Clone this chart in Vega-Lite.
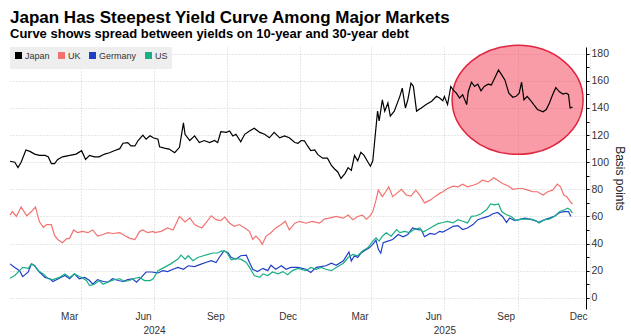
{
  "$schema": "https://vega.github.io/schema/vega-lite/v6.json",
  "width": 580,
  "height": 262,
  "padding": {"left": 7, "top": 9, "right": 0, "bottom": 0},
  "background": "white",
  "title": {
    "text": "Japan Has Steepest Yield Curve Among Major Markets",
    "subtitle": "Curve shows spread between yields on 10-year and 30-year debt",
    "anchor": "start",
    "frame": "group",
    "font": "Liberation Sans",
    "fontSize": 17,
    "fontWeight": "bold",
    "color": "#000000",
    "subtitleFont": "Liberation Sans",
    "subtitleFontSize": 13,
    "subtitleFontWeight": "bold",
    "subtitleColor": "#000000",
    "subtitlePadding": 1,
    "offset": 0
  },
  "config": {
    "view": {"stroke": null},
    "axis": {
      "labelFont": "Liberation Sans",
      "labelColor": "#333333",
      "titleFont": "Liberation Sans",
      "gridColor": "#cfcfcf",
      "gridDash": [1, 2],
      "gridWidth": 1
    }
  },
  "datasets": {
    "focus": [{"d": "2025-09-01", "v": 146}],
    "spread": [
      {"d":"2023-12-03","s":"Japan","v":100.7},{"d":"2023-12-09","s":"Japan","v":100},{"d":"2023-12-13","s":"Japan","v":96},{"d":"2023-12-17","s":"Japan","v":100},{"d":"2023-12-23","s":"Japan","v":109},{"d":"2023-12-28","s":"Japan","v":108},
      {"d":"2024-01-03","s":"Japan","v":106},{"d":"2024-01-09","s":"Japan","v":105},{"d":"2024-01-16","s":"Japan","v":105},{"d":"2024-01-20","s":"Japan","v":104},{"d":"2024-01-24","s":"Japan","v":99},{"d":"2024-01-28","s":"Japan","v":99},
      {"d":"2024-02-01","s":"Japan","v":102},{"d":"2024-02-07","s":"Japan","v":104},{"d":"2024-02-16","s":"Japan","v":105},{"d":"2024-02-24","s":"Japan","v":106},{"d":"2024-03-02","s":"Japan","v":108.5},{"d":"2024-03-07","s":"Japan","v":102},
      {"d":"2024-03-12","s":"Japan","v":105},{"d":"2024-03-18","s":"Japan","v":104},{"d":"2024-03-24","s":"Japan","v":104},{"d":"2024-03-31","s":"Japan","v":106},{"d":"2024-04-06","s":"Japan","v":107},{"d":"2024-04-12","s":"Japan","v":108.5},
      {"d":"2024-04-19","s":"Japan","v":110},{"d":"2024-04-23","s":"Japan","v":114},{"d":"2024-04-29","s":"Japan","v":114.5},{"d":"2024-05-03","s":"Japan","v":112},{"d":"2024-05-08","s":"Japan","v":112},{"d":"2024-05-12","s":"Japan","v":116},
      {"d":"2024-05-18","s":"Japan","v":120},{"d":"2024-05-22","s":"Japan","v":117},{"d":"2024-05-27","s":"Japan","v":119.5},{"d":"2024-05-31","s":"Japan","v":118},{"d":"2024-06-06","s":"Japan","v":117},{"d":"2024-06-08","s":"Japan","v":111.4},
      {"d":"2024-06-14","s":"Japan","v":110.4},{"d":"2024-06-20","s":"Japan","v":109.7},{"d":"2024-06-27","s":"Japan","v":107},{"d":"2024-07-03","s":"Japan","v":111},{"d":"2024-07-08","s":"Japan","v":129},{"d":"2024-07-10","s":"Japan","v":120.6},
      {"d":"2024-07-16","s":"Japan","v":116},{"d":"2024-07-22","s":"Japan","v":119.4},{"d":"2024-07-28","s":"Japan","v":114.5},{"d":"2024-08-03","s":"Japan","v":116},{"d":"2024-08-10","s":"Japan","v":114.5},{"d":"2024-08-16","s":"Japan","v":116},
      {"d":"2024-08-20","s":"Japan","v":114.5},{"d":"2024-08-24","s":"Japan","v":122.5},{"d":"2024-08-31","s":"Japan","v":122},{"d":"2024-09-04","s":"Japan","v":123},{"d":"2024-09-08","s":"Japan","v":119.4},{"d":"2024-09-12","s":"Japan","v":120.6},
      {"d":"2024-09-18","s":"Japan","v":115},{"d":"2024-09-23","s":"Japan","v":120.6},{"d":"2024-09-29","s":"Japan","v":123},{"d":"2024-10-05","s":"Japan","v":125},{"d":"2024-10-12","s":"Japan","v":122},{"d":"2024-10-18","s":"Japan","v":120.6},
      {"d":"2024-10-24","s":"Japan","v":118},{"d":"2024-10-30","s":"Japan","v":122},{"d":"2024-11-06","s":"Japan","v":118},{"d":"2024-11-12","s":"Japan","v":119.4},{"d":"2024-11-18","s":"Japan","v":118},{"d":"2024-11-25","s":"Japan","v":114.5},
      {"d":"2024-11-29","s":"Japan","v":114},{"d":"2024-12-03","s":"Japan","v":116},{"d":"2024-12-07","s":"Japan","v":115.8},{"d":"2024-12-11","s":"Japan","v":112},{"d":"2024-12-15","s":"Japan","v":108.5},{"d":"2024-12-20","s":"Japan","v":109},
      {"d":"2024-12-24","s":"Japan","v":105.6},{"d":"2024-12-30","s":"Japan","v":103},{"d":"2025-01-05","s":"Japan","v":103},{"d":"2025-01-10","s":"Japan","v":97.6},{"d":"2025-01-14","s":"Japan","v":95},{"d":"2025-01-18","s":"Japan","v":92.8},
      {"d":"2025-01-22","s":"Japan","v":88},{"d":"2025-01-27","s":"Japan","v":91.6},{"d":"2025-01-31","s":"Japan","v":96},{"d":"2025-02-04","s":"Japan","v":94},{"d":"2025-02-08","s":"Japan","v":105},{"d":"2025-02-12","s":"Japan","v":101},
      {"d":"2025-02-16","s":"Japan","v":107.3},{"d":"2025-02-20","s":"Japan","v":105},{"d":"2025-02-25","s":"Japan","v":100},{"d":"2025-02-28","s":"Japan","v":97},{"d":"2025-03-03","s":"Japan","v":101},{"d":"2025-03-06","s":"Japan","v":119.5},
      {"d":"2025-03-09","s":"Japan","v":137.7},{"d":"2025-03-11","s":"Japan","v":130.4},{"d":"2025-03-15","s":"Japan","v":146},{"d":"2025-03-18","s":"Japan","v":137.7},{"d":"2025-03-22","s":"Japan","v":143.7},{"d":"2025-03-25","s":"Japan","v":134},
      {"d":"2025-03-30","s":"Japan","v":137.7},{"d":"2025-04-06","s":"Japan","v":148.6},{"d":"2025-04-09","s":"Japan","v":154.7},{"d":"2025-04-13","s":"Japan","v":140},{"d":"2025-04-16","s":"Japan","v":146},{"d":"2025-04-20","s":"Japan","v":158.3},
      {"d":"2025-04-23","s":"Japan","v":156},{"d":"2025-04-27","s":"Japan","v":137.7},{"d":"2025-05-03","s":"Japan","v":140},{"d":"2025-05-09","s":"Japan","v":142.5},{"d":"2025-05-16","s":"Japan","v":145},{"d":"2025-05-22","s":"Japan","v":148.6},
      {"d":"2025-05-26","s":"Japan","v":147.4},{"d":"2025-05-30","s":"Japan","v":145.4},{"d":"2025-06-01","s":"Japan","v":148.6},{"d":"2025-06-05","s":"Japan","v":142.5},{"d":"2025-06-09","s":"Japan","v":155.9},{"d":"2025-06-12","s":"Japan","v":153.4},
      {"d":"2025-06-16","s":"Japan","v":151},{"d":"2025-06-20","s":"Japan","v":147.4},{"d":"2025-06-24","s":"Japan","v":149.8},{"d":"2025-06-29","s":"Japan","v":142.5},{"d":"2025-07-01","s":"Japan","v":152.2},{"d":"2025-07-05","s":"Japan","v":159},
      {"d":"2025-07-09","s":"Japan","v":155.9},{"d":"2025-07-13","s":"Japan","v":157.6},{"d":"2025-07-17","s":"Japan","v":152.7},{"d":"2025-07-21","s":"Japan","v":155.9},{"d":"2025-07-26","s":"Japan","v":157.6},{"d":"2025-07-30","s":"Japan","v":157},
      {"d":"2025-08-04","s":"Japan","v":163},{"d":"2025-08-08","s":"Japan","v":168},{"d":"2025-08-12","s":"Japan","v":164.4},{"d":"2025-08-16","s":"Japan","v":160.7},{"d":"2025-08-21","s":"Japan","v":151},{"d":"2025-08-26","s":"Japan","v":147.9},
      {"d":"2025-08-30","s":"Japan","v":148.6},{"d":"2025-09-03","s":"Japan","v":151},{"d":"2025-09-06","s":"Japan","v":159},{"d":"2025-09-09","s":"Japan","v":146},{"d":"2025-09-13","s":"Japan","v":148.6},{"d":"2025-09-18","s":"Japan","v":145},
      {"d":"2025-09-22","s":"Japan","v":142},{"d":"2025-09-26","s":"Japan","v":138.9},{"d":"2025-10-03","s":"Japan","v":137.2},{"d":"2025-10-07","s":"Japan","v":138.9},{"d":"2025-10-11","s":"Japan","v":143.7},{"d":"2025-10-15","s":"Japan","v":149.8},
      {"d":"2025-10-19","s":"Japan","v":155},{"d":"2025-10-24","s":"Japan","v":151.7},{"d":"2025-10-28","s":"Japan","v":150.3},{"d":"2025-11-01","s":"Japan","v":151},{"d":"2025-11-04","s":"Japan","v":149.8},{"d":"2025-11-06","s":"Japan","v":140},{"d":"2025-11-09","s":"Japan","v":140.6},

      {"d":"2023-12-03","s":"UK","v":61},{"d":"2023-12-06","s":"UK","v":63.6},{"d":"2023-12-11","s":"UK","v":60},{"d":"2023-12-17","s":"UK","v":67},{"d":"2023-12-24","s":"UK","v":60.5},{"d":"2023-12-30","s":"UK","v":63.6},
      {"d":"2024-01-04","s":"UK","v":67},{"d":"2024-01-09","s":"UK","v":56},{"d":"2024-01-14","s":"UK","v":52},{"d":"2024-01-18","s":"UK","v":54},{"d":"2024-01-24","s":"UK","v":54},{"d":"2024-01-28","s":"UK","v":46},
      {"d":"2024-02-01","s":"UK","v":43},{"d":"2024-02-07","s":"UK","v":40.6},{"d":"2024-02-12","s":"UK","v":43.5},{"d":"2024-02-16","s":"UK","v":44},{"d":"2024-02-21","s":"UK","v":50},{"d":"2024-02-26","s":"UK","v":48},
      {"d":"2024-03-03","s":"UK","v":49},{"d":"2024-03-10","s":"UK","v":48},{"d":"2024-03-16","s":"UK","v":50},{"d":"2024-03-22","s":"UK","v":45.5},{"d":"2024-03-29","s":"UK","v":46.7},{"d":"2024-04-04","s":"UK","v":48},
      {"d":"2024-04-10","s":"UK","v":47.4},{"d":"2024-04-19","s":"UK","v":48},{"d":"2024-04-25","s":"UK","v":46},{"d":"2024-05-01","s":"UK","v":44},{"d":"2024-05-08","s":"UK","v":43},{"d":"2024-05-14","s":"UK","v":49},
      {"d":"2024-05-18","s":"UK","v":50},{"d":"2024-05-24","s":"UK","v":48},{"d":"2024-05-31","s":"UK","v":49},{"d":"2024-06-02","s":"UK","v":48},{"d":"2024-06-10","s":"UK","v":49},{"d":"2024-06-18","s":"UK","v":51.5},
      {"d":"2024-06-25","s":"UK","v":50},{"d":"2024-07-03","s":"UK","v":60},{"d":"2024-07-10","s":"UK","v":56},{"d":"2024-07-16","s":"UK","v":59},{"d":"2024-07-22","s":"UK","v":54},{"d":"2024-07-31","s":"UK","v":51.5},
      {"d":"2024-08-05","s":"UK","v":55},{"d":"2024-08-12","s":"UK","v":60.5},{"d":"2024-08-18","s":"UK","v":57.6},{"d":"2024-08-24","s":"UK","v":57},{"d":"2024-08-29","s":"UK","v":59.5},{"d":"2024-09-04","s":"UK","v":55},
      {"d":"2024-09-10","s":"UK","v":52.7},{"d":"2024-09-16","s":"UK","v":54},{"d":"2024-09-23","s":"UK","v":51.5},{"d":"2024-09-29","s":"UK","v":49},{"d":"2024-10-03","s":"UK","v":43},{"d":"2024-10-07","s":"UK","v":45.5},
      {"d":"2024-10-12","s":"UK","v":42.5},{"d":"2024-10-15","s":"UK","v":39.4},{"d":"2024-10-20","s":"UK","v":45.5},{"d":"2024-10-26","s":"UK","v":48},{"d":"2024-11-01","s":"UK","v":51.5},{"d":"2024-11-08","s":"UK","v":54},
      {"d":"2024-11-13","s":"UK","v":56.4},{"d":"2024-11-18","s":"UK","v":50},{"d":"2024-11-25","s":"UK","v":55},{"d":"2024-12-01","s":"UK","v":56.4},{"d":"2024-12-09","s":"UK","v":55},{"d":"2024-12-17","s":"UK","v":56.4},
      {"d":"2024-12-26","s":"UK","v":55},{"d":"2025-01-01","s":"UK","v":58},{"d":"2025-01-07","s":"UK","v":58.7},{"d":"2025-01-16","s":"UK","v":60},{"d":"2025-01-25","s":"UK","v":58.7},{"d":"2025-01-31","s":"UK","v":61},
      {"d":"2025-02-06","s":"UK","v":57.6},{"d":"2025-02-12","s":"UK","v":60},{"d":"2025-02-18","s":"UK","v":61},{"d":"2025-02-23","s":"UK","v":58},{"d":"2025-02-27","s":"UK","v":60},{"d":"2025-03-03","s":"UK","v":63.6},
      {"d":"2025-03-07","s":"UK","v":72},{"d":"2025-03-10","s":"UK","v":79.4},{"d":"2025-03-15","s":"UK","v":74.6},{"d":"2025-03-19","s":"UK","v":78},{"d":"2025-03-23","s":"UK","v":81.8},{"d":"2025-03-28","s":"UK","v":74.6},
      {"d":"2025-04-02","s":"UK","v":77},{"d":"2025-04-08","s":"UK","v":80},{"d":"2025-04-14","s":"UK","v":75.8},{"d":"2025-04-20","s":"UK","v":75},{"d":"2025-04-26","s":"UK","v":79.4},{"d":"2025-05-01","s":"UK","v":75.8},
      {"d":"2025-05-07","s":"UK","v":70},{"d":"2025-05-14","s":"UK","v":72},{"d":"2025-05-20","s":"UK","v":74.6},{"d":"2025-05-26","s":"UK","v":77},{"d":"2025-05-30","s":"UK","v":78.2},{"d":"2025-06-05","s":"UK","v":80.6},
      {"d":"2025-06-12","s":"UK","v":82.3},{"d":"2025-06-18","s":"UK","v":81.8},{"d":"2025-06-24","s":"UK","v":83.8},{"d":"2025-06-30","s":"UK","v":81.8},{"d":"2025-07-07","s":"UK","v":83},{"d":"2025-07-13","s":"UK","v":84.3},
      {"d":"2025-07-19","s":"UK","v":86.7},{"d":"2025-07-26","s":"UK","v":85.5},{"d":"2025-08-02","s":"UK","v":88.6},{"d":"2025-08-07","s":"UK","v":86.7},{"d":"2025-08-13","s":"UK","v":84.3},{"d":"2025-08-21","s":"UK","v":82.3},
      {"d":"2025-08-26","s":"UK","v":80},{"d":"2025-09-02","s":"UK","v":80.6},{"d":"2025-09-07","s":"UK","v":80.6},{"d":"2025-09-14","s":"UK","v":79.4},{"d":"2025-09-20","s":"UK","v":78.2},{"d":"2025-09-26","s":"UK","v":78.2},
      {"d":"2025-10-03","s":"UK","v":75.8},{"d":"2025-10-09","s":"UK","v":78.2},{"d":"2025-10-15","s":"UK","v":79.4},{"d":"2025-10-21","s":"UK","v":83.8},{"d":"2025-10-25","s":"UK","v":81.8},{"d":"2025-10-29","s":"UK","v":75.8},
      {"d":"2025-11-02","s":"UK","v":74.6},{"d":"2025-11-06","s":"UK","v":71},{"d":"2025-11-09","s":"UK","v":69.2},

      {"d":"2023-12-03","s":"Germany","v":25},{"d":"2023-12-09","s":"Germany","v":22.4},{"d":"2023-12-15","s":"Germany","v":20},{"d":"2023-12-19","s":"Germany","v":15.6},{"d":"2023-12-26","s":"Germany","v":19},{"d":"2023-12-30","s":"Germany","v":25},
      {"d":"2024-01-03","s":"Germany","v":23.6},{"d":"2024-01-09","s":"Germany","v":19},{"d":"2024-01-16","s":"Germany","v":15},{"d":"2024-01-22","s":"Germany","v":14},{"d":"2024-01-26","s":"Germany","v":12},{"d":"2024-02-03","s":"Germany","v":14.4},
      {"d":"2024-02-10","s":"Germany","v":16.4},{"d":"2024-02-16","s":"Germany","v":14},{"d":"2024-02-22","s":"Germany","v":17.6},{"d":"2024-02-28","s":"Germany","v":14},{"d":"2024-03-06","s":"Germany","v":15},{"d":"2024-03-12","s":"Germany","v":12.7},
      {"d":"2024-03-16","s":"Germany","v":10},{"d":"2024-03-22","s":"Germany","v":13.4},{"d":"2024-03-29","s":"Germany","v":12},{"d":"2024-04-04","s":"Germany","v":11.5},{"d":"2024-04-10","s":"Germany","v":14},{"d":"2024-04-17","s":"Germany","v":12.7},
      {"d":"2024-04-23","s":"Germany","v":12},{"d":"2024-04-29","s":"Germany","v":13.4},{"d":"2024-05-05","s":"Germany","v":14},{"d":"2024-05-10","s":"Germany","v":11.5},{"d":"2024-05-16","s":"Germany","v":15},{"d":"2024-05-22","s":"Germany","v":19},
      {"d":"2024-05-29","s":"Germany","v":19},{"d":"2024-06-06","s":"Germany","v":18.3},{"d":"2024-06-12","s":"Germany","v":20},{"d":"2024-06-18","s":"Germany","v":19.3},{"d":"2024-06-25","s":"Germany","v":21},{"d":"2024-07-01","s":"Germany","v":22.4},
      {"d":"2024-07-08","s":"Germany","v":21},{"d":"2024-07-14","s":"Germany","v":23.6},{"d":"2024-07-22","s":"Germany","v":23},{"d":"2024-07-31","s":"Germany","v":25},{"d":"2024-08-05","s":"Germany","v":26},{"d":"2024-08-12","s":"Germany","v":27.3},
      {"d":"2024-08-18","s":"Germany","v":26},{"d":"2024-08-22","s":"Germany","v":29.7},{"d":"2024-08-28","s":"Germany","v":34.5},{"d":"2024-09-02","s":"Germany","v":33.3},{"d":"2024-09-06","s":"Germany","v":29.7},{"d":"2024-09-12","s":"Germany","v":28.5},
      {"d":"2024-09-18","s":"Germany","v":31},{"d":"2024-09-25","s":"Germany","v":31.4},{"d":"2024-09-29","s":"Germany","v":26},{"d":"2024-10-03","s":"Germany","v":21},{"d":"2024-10-09","s":"Germany","v":19.3},{"d":"2024-10-16","s":"Germany","v":21.7},
      {"d":"2024-10-22","s":"Germany","v":20},{"d":"2024-10-26","s":"Germany","v":24},{"d":"2024-11-01","s":"Germany","v":21},{"d":"2024-11-08","s":"Germany","v":23.6},{"d":"2024-11-14","s":"Germany","v":21},{"d":"2024-11-20","s":"Germany","v":22.4},
      {"d":"2024-11-29","s":"Germany","v":22.4},{"d":"2024-12-09","s":"Germany","v":21},{"d":"2024-12-15","s":"Germany","v":18.7},{"d":"2024-12-22","s":"Germany","v":22.4},{"d":"2024-12-28","s":"Germany","v":23},{"d":"2025-01-03","s":"Germany","v":23.6},
      {"d":"2025-01-10","s":"Germany","v":25.5},{"d":"2025-01-16","s":"Germany","v":24},{"d":"2025-01-25","s":"Germany","v":27.2},{"d":"2025-02-01","s":"Germany","v":33.8},{"d":"2025-02-04","s":"Germany","v":27.2},{"d":"2025-02-08","s":"Germany","v":31},
      {"d":"2025-02-12","s":"Germany","v":29.7},{"d":"2025-02-16","s":"Germany","v":32.8},{"d":"2025-02-20","s":"Germany","v":34.5},{"d":"2025-02-27","s":"Germany","v":37},{"d":"2025-03-03","s":"Germany","v":39.4},{"d":"2025-03-07","s":"Germany","v":42.5},
      {"d":"2025-03-10","s":"Germany","v":35.7},{"d":"2025-03-13","s":"Germany","v":32.8},{"d":"2025-03-16","s":"Germany","v":40.6},{"d":"2025-03-22","s":"Germany","v":41.8},{"d":"2025-03-28","s":"Germany","v":43},{"d":"2025-04-04","s":"Germany","v":46.7},
      {"d":"2025-04-10","s":"Germany","v":45},{"d":"2025-04-16","s":"Germany","v":46.7},{"d":"2025-04-22","s":"Germany","v":51.5},{"d":"2025-04-29","s":"Germany","v":50.3},{"d":"2025-05-03","s":"Germany","v":50},{"d":"2025-05-07","s":"Germany","v":45},
      {"d":"2025-05-14","s":"Germany","v":47.4},{"d":"2025-05-20","s":"Germany","v":46.7},{"d":"2025-05-26","s":"Germany","v":49},{"d":"2025-05-30","s":"Germany","v":48.4},{"d":"2025-06-05","s":"Germany","v":50.3},{"d":"2025-06-12","s":"Germany","v":52.7},
      {"d":"2025-06-18","s":"Germany","v":53.2},{"d":"2025-06-24","s":"Germany","v":50.3},{"d":"2025-06-30","s":"Germany","v":51.5},{"d":"2025-07-07","s":"Germany","v":54},{"d":"2025-07-13","s":"Germany","v":57.6},{"d":"2025-07-19","s":"Germany","v":58.8},
      {"d":"2025-07-26","s":"Germany","v":60},{"d":"2025-08-01","s":"Germany","v":62},{"d":"2025-08-07","s":"Germany","v":62.9},{"d":"2025-08-13","s":"Germany","v":60},{"d":"2025-08-18","s":"Germany","v":55.6},{"d":"2025-08-22","s":"Germany","v":58.8},
      {"d":"2025-08-28","s":"Germany","v":57},{"d":"2025-09-03","s":"Germany","v":57.6},{"d":"2025-09-10","s":"Germany","v":58.8},{"d":"2025-09-16","s":"Germany","v":58},{"d":"2025-09-22","s":"Germany","v":57},{"d":"2025-09-28","s":"Germany","v":55.6},
      {"d":"2025-10-05","s":"Germany","v":57.6},{"d":"2025-10-11","s":"Germany","v":58.8},{"d":"2025-10-17","s":"Germany","v":60},{"d":"2025-10-24","s":"Germany","v":62.9},{"d":"2025-10-30","s":"Germany","v":63.6},{"d":"2025-11-04","s":"Germany","v":63.6},{"d":"2025-11-07","s":"Germany","v":60},

      {"d":"2023-12-03","s":"US","v":14.4},{"d":"2023-12-09","s":"US","v":16.4},{"d":"2023-12-15","s":"US","v":20},{"d":"2023-12-19","s":"US","v":22.4},{"d":"2023-12-26","s":"US","v":21.7},{"d":"2023-12-30","s":"US","v":25},
      {"d":"2024-01-03","s":"US","v":23.6},{"d":"2024-01-07","s":"US","v":20},{"d":"2024-01-14","s":"US","v":17.6},{"d":"2024-01-20","s":"US","v":14},{"d":"2024-01-26","s":"US","v":13.4},{"d":"2024-02-03","s":"US","v":15},
      {"d":"2024-02-10","s":"US","v":17.6},{"d":"2024-02-16","s":"US","v":15},{"d":"2024-02-22","s":"US","v":17.6},{"d":"2024-03-02","s":"US","v":15},{"d":"2024-03-08","s":"US","v":12.7},{"d":"2024-03-12","s":"US","v":9},
      {"d":"2024-03-18","s":"US","v":10},{"d":"2024-03-24","s":"US","v":12.7},{"d":"2024-03-29","s":"US","v":10},{"d":"2024-04-06","s":"US","v":12},{"d":"2024-04-12","s":"US","v":13.4},{"d":"2024-04-19","s":"US","v":14},
      {"d":"2024-04-25","s":"US","v":12},{"d":"2024-05-01","s":"US","v":12.7},{"d":"2024-05-08","s":"US","v":14.4},{"d":"2024-05-14","s":"US","v":15},{"d":"2024-05-20","s":"US","v":12.7},{"d":"2024-05-27","s":"US","v":12.7},
      {"d":"2024-05-31","s":"US","v":14},{"d":"2024-06-06","s":"US","v":20},{"d":"2024-06-14","s":"US","v":22.4},{"d":"2024-06-22","s":"US","v":25},{"d":"2024-07-01","s":"US","v":28.5},{"d":"2024-07-05","s":"US","v":31.4},
      {"d":"2024-07-10","s":"US","v":28.5},{"d":"2024-07-14","s":"US","v":31},{"d":"2024-07-20","s":"US","v":27.3},{"d":"2024-07-26","s":"US","v":29.7},{"d":"2024-08-02","s":"US","v":31},{"d":"2024-08-08","s":"US","v":32},
      {"d":"2024-08-14","s":"US","v":33},{"d":"2024-08-20","s":"US","v":33},{"d":"2024-08-25","s":"US","v":34.5},{"d":"2024-08-31","s":"US","v":34},{"d":"2024-09-06","s":"US","v":28},{"d":"2024-09-12","s":"US","v":29},
      {"d":"2024-09-18","s":"US","v":28.5},{"d":"2024-09-25","s":"US","v":26},{"d":"2024-09-29","s":"US","v":22.4},{"d":"2024-10-05","s":"US","v":16.4},{"d":"2024-10-12","s":"US","v":15},{"d":"2024-10-16","s":"US","v":17.6},
      {"d":"2024-10-22","s":"US","v":16.4},{"d":"2024-10-28","s":"US","v":19},{"d":"2024-11-04","s":"US","v":17.6},{"d":"2024-11-10","s":"US","v":19.3},{"d":"2024-11-16","s":"US","v":17},{"d":"2024-11-22","s":"US","v":20},
      {"d":"2024-11-29","s":"US","v":21.7},{"d":"2024-12-09","s":"US","v":20},{"d":"2024-12-15","s":"US","v":22.4},{"d":"2024-12-22","s":"US","v":21},{"d":"2024-12-28","s":"US","v":22.4},{"d":"2025-01-03","s":"US","v":21},
      {"d":"2025-01-10","s":"US","v":20},{"d":"2025-01-16","s":"US","v":22.4},{"d":"2025-01-25","s":"US","v":25.5},{"d":"2025-01-31","s":"US","v":29.7},{"d":"2025-02-06","s":"US","v":32},{"d":"2025-02-12","s":"US","v":31},
      {"d":"2025-02-18","s":"US","v":34.5},{"d":"2025-02-25","s":"US","v":37},{"d":"2025-03-03","s":"US","v":41.8},{"d":"2025-03-07","s":"US","v":44.2},{"d":"2025-03-11","s":"US","v":41.8},{"d":"2025-03-15","s":"US","v":45.4},
      {"d":"2025-03-20","s":"US","v":48},{"d":"2025-03-26","s":"US","v":45.4},{"d":"2025-04-02","s":"US","v":50.3},{"d":"2025-04-06","s":"US","v":48},{"d":"2025-04-12","s":"US","v":49},{"d":"2025-04-18","s":"US","v":48},
      {"d":"2025-04-24","s":"US","v":50.3},{"d":"2025-05-01","s":"US","v":51.5},{"d":"2025-05-05","s":"US","v":48.4},{"d":"2025-05-11","s":"US","v":50.3},{"d":"2025-05-18","s":"US","v":52.7},{"d":"2025-05-24","s":"US","v":54.7},
      {"d":"2025-05-30","s":"US","v":55.5},{"d":"2025-06-05","s":"US","v":56.4},{"d":"2025-06-12","s":"US","v":55.2},{"d":"2025-06-18","s":"US","v":57.6},{"d":"2025-06-24","s":"US","v":56.4},{"d":"2025-06-30","s":"US","v":55.2},
      {"d":"2025-07-05","s":"US","v":60},{"d":"2025-07-11","s":"US","v":60.5},{"d":"2025-07-17","s":"US","v":62},{"d":"2025-07-24","s":"US","v":64.9},{"d":"2025-07-29","s":"US","v":69.2},{"d":"2025-08-03","s":"US","v":68.5},
      {"d":"2025-08-08","s":"US","v":69.2},{"d":"2025-08-12","s":"US","v":63.6},{"d":"2025-08-18","s":"US","v":61.2},{"d":"2025-08-24","s":"US","v":60},{"d":"2025-08-30","s":"US","v":57},{"d":"2025-09-05","s":"US","v":58},
      {"d":"2025-09-12","s":"US","v":58},{"d":"2025-09-18","s":"US","v":58},{"d":"2025-09-24","s":"US","v":57},{"d":"2025-09-28","s":"US","v":55.2},{"d":"2025-10-05","s":"US","v":57.6},{"d":"2025-10-11","s":"US","v":58},
      {"d":"2025-10-17","s":"US","v":60},{"d":"2025-10-24","s":"US","v":63.6},{"d":"2025-10-30","s":"US","v":64.9},{"d":"2025-11-03","s":"US","v":66},{"d":"2025-11-06","s":"US","v":64.9},{"d":"2025-11-09","s":"US","v":62.4}
    ]
  },
  "resolve": {"axis": {"x": "independent", "y": "independent"}},
  "layer": [
    {
      "data": {"name": "focus"},
      "mark": {
        "type": "point",
        "shape": "M 1 0 C 1 0.4595 0.5523 0.832 0 0.832 C -0.5523 0.832 -1 0.4595 -1 0 C -1 -0.4595 -0.5523 -0.832 0 -0.832 C 0.5523 -0.832 1 -0.4595 1 0 Z",
        "size": 17161,
        "filled": true,
        "fill": "#f5394f",
        "fillOpacity": 0.5,
        "stroke": "#e0253f",
        "strokeOpacity": 1,
        "strokeWidth": 1.5,
        "opacity": 1
      },
      "encoding": {
        "x": {
          "field": "d", "type": "temporal",
          "scale": {"domain": [{"year": 2023, "month": 12, "date": 3}, {"year": 2025, "month": 12, "date": 1}]},
          "axis": {
            "orient": "bottom",
            "values": [{"year": 2024, "month": 6, "date": 1}, {"year": 2025, "month": 6, "date": 1}],
            "format": "%Y",
            "labelAlign": "center",
            "labelFlush": false,
            "labelPadding": 16,
            "labelFontSize": 10,
            "ticks": false,
            "domain": false,
            "grid": false,
            "title": null
          }
        },
        "y": {
          "field": "v", "type": "quantitative",
          "scale": {"domain": [-8.3, 185], "nice": false, "zero": false},
          "axis": {
            "orient": "right",
            "values": [10, 30, 50, 70, 90, 110, 130, 150, 170],
            "labels": false,
            "grid": false,
            "domain": false,
            "ticks": true,
            "tickSize": 3,
            "tickColor": "#000000",
            "offset": -4,
            "title": null
          }
        }
      }
    },
    {
      "data": {"name": "spread"},
      "mark": {"type": "line", "strokeWidth": 1.2, "interpolate": "linear"},
      "encoding": {
        "x": {
          "field": "d", "type": "temporal",
          "scale": {"domain": [{"year": 2023, "month": 12, "date": 3}, {"year": 2025, "month": 12, "date": 1}]},
          "axis": {
            "orient": "bottom",
            "values": [
              {"year": 2024, "month": 3, "date": 1}, {"year": 2024, "month": 6, "date": 1},
              {"year": 2024, "month": 9, "date": 1}, {"year": 2024, "month": 12, "date": 1},
              {"year": 2025, "month": 3, "date": 1}, {"year": 2025, "month": 6, "date": 1},
              {"year": 2025, "month": 9, "date": 1}, {"year": 2025, "month": 12, "date": 1}
            ],
            "format": "%b",
            "labelAlign": "right",
            "labelOffset": -3,
            "labelFlush": false,
            "labelPadding": 2,
            "labelFontSize": 10,
            "ticks": false,
            "domain": false,
            "grid": true,
            "title": null
          }
        },
        "y": {
          "field": "v", "type": "quantitative",
          "scale": {"domain": [-8.3, 185], "nice": false, "zero": false},
          "axis": {
            "orient": "right",
            "values": [0, 20, 40, 60, 80, 100, 120, 140, 160, 180],
            "grid": true,
            "domain": true,
            "domainColor": "#000000",
            "domainWidth": 1,
            "ticks": true,
            "tickSize": 3,
            "tickColor": "#000000",
            "labelPadding": 2,
            "labelFontSize": 10.5,
            "offset": -4,
            "title": "Basis points",
            "titleFontSize": 12,
            "titleFontWeight": "normal",
            "titleColor": "#222222",
            "titlePadding": 4
          }
        },
        "color": {
          "field": "s", "type": "nominal",
          "scale": {"domain": ["Japan", "UK", "Germany", "US"], "range": ["#000000", "#f2726f", "#1f3fc8", "#1aae87"]},
          "legend": {
            "orient": "top-left",
            "direction": "horizontal",
            "title": null,
            "offset": 0,
            "padding": 4,
            "fillColor": "#eeeeee",
            "symbolType": "square",
            "symbolSize": 9,
            "symbolStrokeWidth": 4,
            "labelFont": "Liberation Sans",
            "labelFontSize": 9,
            "labelColor": "#333333",
            "labelOffset": 2,
            "columnPadding": 2
          }
        }
      }
    }
  ]
}
